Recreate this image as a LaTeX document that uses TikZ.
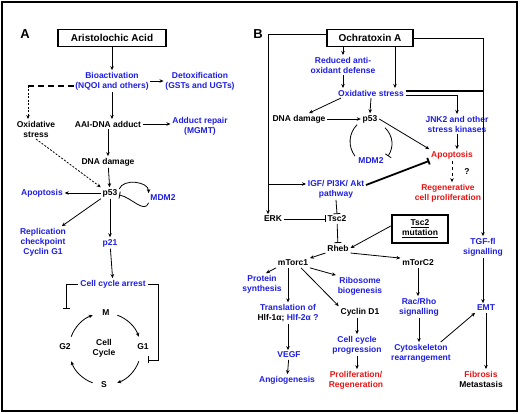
\documentclass[tikz,border=0pt]{standalone}
\usepackage{fontspec}
\setmainfont{Liberation Sans}
\usetikzlibrary{arrows.meta}
\definecolor{pblue}{RGB}{30,30,225}
\definecolor{pred}{RGB}{230,20,20}

\begin{document}
\begin{tikzpicture}[x=1pt,y=1pt,line width=0.8pt,
  every node/.style={font=\bfseries\fontsize{8.5}{10}\selectfont,align=center,inner sep=1.5pt},
  >={Stealth[length=4pt,width=3.5pt]},
  blu/.style={text=pblue},
  rd/.style={text=pred},
  inh/.style={-{Bar[width=7pt]}},
  box/.style={draw,line width=1.3pt,minimum height=17pt,inner sep=2pt,font=\bfseries\fontsize{10}{12}\selectfont},
  panel/.style={font=\bfseries\fontsize{13}{15}\selectfont},
  fine/.style={dash pattern=on 2pt off 1.5pt}]

\useasboundingbox (0,0) rectangle (520,-414);
\draw[line width=1.5pt] (2,-2) rectangle (517,-411);

% A
\node[panel] (A) at (25,-34) {A};
\node[box,minimum width=108pt] (aa) at (112,-38) {Aristolochic Acid};
\node[blu] (bio) at (112,-81) {Bioactivation\\(NQOI and others)};
\node[blu] (detox) at (200,-81) {Detoxification\\(GSTs and UGTs)};
\node (oxA) at (36,-129) {Oxidative\\stress};
\node (adduct) at (108,-124) {AAI-DNA adduct};
\node[blu] (repair) at (200,-126) {Adduct repair\\(MGMT)};
\node (dnaA) at (108,-162) {DNA damage};
\node (p53A) at (110,-193) {p53};
\node[blu] (apoA) at (42,-193) {Apoptosis};
\node[blu] (mdmA) at (163,-198) {MDM2};
\node[blu] (repl) at (43,-242) {Replication\\checkpoint\\Cyclin G1};
\node[blu] (p21) at (110,-243) {p21};
\node[blu] (arrest) at (113,-284) {Cell cycle arrest};
\node (M) at (106,-313) {M};
\node (G1) at (143,-347) {G1};
\node (S) at (104,-385) {S};
\node (G2) at (65,-347) {G2};
\node (cyc0) at (104,-348) {Cell\\Cycle};
\coordinate (cc) at (105,-349);
\coordinate (dk) at (28,-86);

\draw[->] (aa.south) -- (aa.south |- bio.north);
\draw[->] (bio) -- (detox);
\draw[line width=1.6pt,dash pattern=on 6pt off 4pt] ([yshift=-5]bio.west) -- (dk);
\draw[->,fine] (dk) -- (dk |- oxA.north);
\draw[->] (bio.south) -- (bio.south |- adduct.north);
\draw[->] (adduct.east) -- (adduct.east -| repair.west);
\draw[->] (adduct) -- (dnaA);
\draw[->,fine] (oxA.south) -- (p53A.north west);
\draw[->] (dnaA) -- (p53A);
\draw[->] (p53A) -- (apoA);
\draw[->] (p53A.south west) -- ([xshift=-6]repl.north east);
\draw[->] ([yshift=4]p53A.east) to[out=70,in=90] (mdmA.north west);
\draw[inh] (mdmA.south west) to[out=-110,in=-10] ([yshift=-2]p53A.east);
\draw[->] (p53A) -- (p21);
\draw[->] (p21) -- (arrest);
\draw[inh] (arrest.west) -- +(-12,0) -- +(-12,-25);
\draw[inh] (arrest.east) -- +(11,0) -- +(11,-76) -- +(0,-76);

\draw[->] ([shift={(70:36)}]cc) arc[start angle=70,end angle=20,radius=36];
\draw[->] ([shift={(-20:36)}]cc) arc[start angle=-20,end angle=-70,radius=36];
\draw[->] ([shift={(-110:36)}]cc) arc[start angle=-110,end angle=-160,radius=36];
\draw[->] ([shift={(160:36)}]cc) arc[start angle=160,end angle=110,radius=36];

% B
\node[panel] (B) at (258,-34) {B};
\node[box,minimum width=86pt] (ota) at (370,-38) {Ochratoxin A};
\node[blu] (red) at (343,-65) {Reduced anti-\\oxidant defense};
\node[blu] (oxB) at (371,-93) {Oxidative stress};
\node (dnaB) at (299,-119) {DNA damage};
\node (p53B) at (370,-119) {p53};
\node[blu] (jnk) at (457,-124) {JNK2 and other\\stress kinases};
\node[blu] (mdmB) at (371,-161) {MDM2};
\node[rd] (apoB) at (452,-155) {Apoptosis};
\node (q) at (467,-172) {?};
\node[rd] (regen) at (448,-193) {Regenerative\\cell proliferation};
\node[blu] (igf) at (336,-189) {IGF/ PI3K/ Akt\\pathway};
\node (erk) at (273,-219) {ERK};
\node (tsc) at (337,-219) {Tsc2};
\node[draw,line width=2.5pt,minimum width=56pt,minimum height=28pt] (mut) at (420,-229) {\underline{Tsc2}\\\underline{mutation}};
\node (rheb) at (338,-248) {Rheb};
\node (mt1) at (293,-263) {mTorc1};
\node (mt2) at (418,-263) {mTorC2};
\node[blu] (tgf) at (483,-247) {TGF-fl\\signalling};
\node[blu] (prot) at (262,-284) {Protein\\synthesis};
\node[blu] (ribo) at (360,-286) {Ribosome\\biogenesis};
\node (trans) at (288,-313) {\textcolor{pblue}{Translation of}\\Hlf-1α;\ \textcolor{pblue}{Hlf-2α ?}};
\node (cyc) at (360,-312) {Cyclin D1};
\node[blu] (rac) at (419,-307) {Rac/Rho\\signalling};
\node[blu] (emt) at (486,-308) {EMT};
\node[blu] (ccp) at (357,-345) {Cell cycle\\progression};
\node[blu] (cyto) at (421,-353) {Cytoskeleton\\rearrangement};
\node[blu] (vegf) at (289,-355) {VEGF};
\node[blu] (angio) at (287,-380) {Angiogenesis};
\node[rd] (prolif) at (356,-380) {Proliferation/\\Regeneration};
\node (fib) at (481,-379) {\textcolor{pred}{Fibrosis}\\Metastasis};
\coordinate (lb) at (268,-184);
\coordinate (otr) at ([xshift=25]ota.south);
\coordinate (oxr) at ([yshift=2]oxB.east);

\draw[->] ([yshift=4]ota.west) -| ([xshift=-5]erk.north);
\draw[->] (lb) -- (lb -| igf.west);
\draw[->] (ota.east) -| (tgf.north);
\draw[->] (ota.south -| red.north) -- (red.north);
\draw[->] (otr) -- (otr |- oxB.north);
\draw[->] (red.south) -- (red.south |- oxB.north);
\draw[->] ([xshift=-30]oxB.south) -- ([xshift=10]dnaB.north);
\draw[->] (oxB.south) -- (p53B.north);
\draw[->] (dnaB) -- (p53B);
\draw[line width=1.8pt] (oxr) -- (oxr -| tgf.north);
\draw[->] ([yshift=-2]oxB.east) -| (jnk.north);
\draw[->] (p53B.east) -- (apoB.north west);
\draw[->] (jnk.south) -- (jnk.south |- apoB.north);
\draw[->,dashed] (apoB.south) -- (apoB.south |- regen.north);
\draw ([xshift=-13]p53B.south) to[bend right=40] ([xshift=-16]mdmB.north);
\draw[inh] ([xshift=15,yshift=-3]p53B.south) to[bend left=40] ([xshift=17]mdmB.north);
\draw[inh,line width=1.8pt] ([yshift=4]igf.east) -- (apoB.south west);
\draw[inh] (igf.south) -- (tsc.north);
\draw[inh] (erk) -- (tsc);
\draw[inh] (tsc) -- (rheb);
\draw[->] ([yshift=3]mut.west) -- (rheb.east);
\draw[->] (rheb.south west) -- (mt1.north east);
\draw[->] (rheb.south east) -- (mt2.north west);
\draw[->] (mt1.south west) -- ([xshift=4]prot.north);
\draw[->] (mt1.south east) -- (ribo.north west);
\draw[->] (trans.north |- mt1.south) -- (trans.north);
\draw[->] ([xshift=8]mt1.south) -- (cyc.north west);
\draw[->] (ccp.north |- cyc.south) -- (ccp.north);
\draw[->] (ccp.south) -- (ccp.south |- prolif.north);
\draw[->] (trans.south) -- (trans.south |- vegf.north);
\draw[->] (vegf) -- (angio);
\draw[->] (mt2.south) -- (mt2.south |- rac.north);
\draw[->] (rac.south) -- (rac.south |- cyto.north);
\draw[->] ([xshift=-12]cyto.north east) -- (emt.south west);
\draw[->] (tgf.south) -- (tgf.south |- emt.north);
\draw[->] (emt.south) -- (emt.south |- fib.north);

\end{tikzpicture}
\end{document}
